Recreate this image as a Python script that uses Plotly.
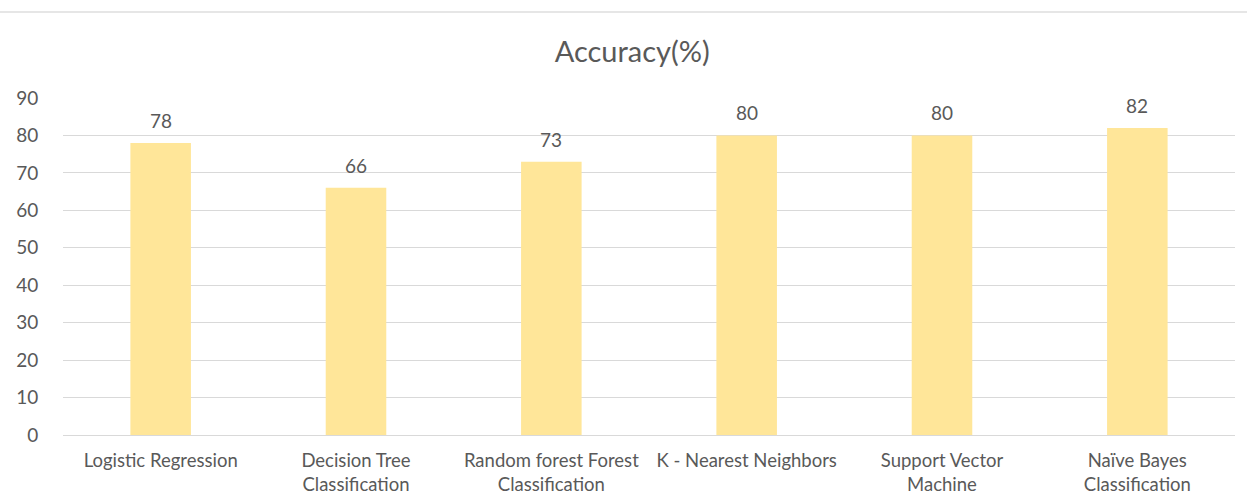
import plotly.graph_objects as go

categories = ["Logistic Regression", "Decision Tree<br>Classification",
              "Random forest Forest<br>Classification", "K - Nearest Neighbors",
              "Support Vector<br>Machine", "Naïve Bayes<br>Classification"]
accuracy = [78, 66, 73, 80, 80, 82]
y_ticks = [0, 10, 20, 30, 40, 50, 60, 70, 80, 90]

FONT = "Lato"
TXT = "#595959"

fig = go.Figure()
fig.add_trace(go.Bar(x=categories, y=accuracy, marker_color="#FFE699",
                     marker_line_width=0, hoverinfo="x+y"))

for c, v in zip(categories, accuracy):
    fig.add_annotation(x=c, y=v, text=str(v), showarrow=False, yanchor="bottom",
                       yshift=9, font=dict(family=FONT, size=19, color=TXT))

# page artifact: thin grey rule near top
fig.add_shape(type="line", xref="paper", yref="paper", x0=-0.06, x1=1.02,
              y0=1.255, y1=1.255, line=dict(color="#e6e6e6", width=2))

fig.update_layout(
    width=1247, height=496,
    margin=dict(l=63, r=12, t=98, b=61, autoexpand=False),
    paper_bgcolor="white", plot_bgcolor="white",
    bargap=0.69,
    showlegend=False,
    title=dict(text="Accuracy(%)", x=0.507, xanchor="center", y=0.895, yanchor="middle",
               font=dict(family=FONT, size=29, color=TXT)),
    font=dict(family=FONT, size=19, color=TXT),
    xaxis=dict(showgrid=False, showline=True, linecolor="#D9D9D9", linewidth=1,
               ticks="", ticklabelstandoff=9, automargin=False,
               tickfont=dict(family=FONT, size=18.5, color=TXT)),
    yaxis=dict(range=[0, 90], tickvals=y_ticks, showgrid=True, gridcolor="#D9D9D9",
               gridwidth=1, zeroline=False, showline=False, ticks="outside",
               ticklen=20, tickcolor="rgba(0,0,0,0)", automargin=False,
               tickfont=dict(family=FONT, size=19, color=TXT)),
)

fig.write_html("out.html")
